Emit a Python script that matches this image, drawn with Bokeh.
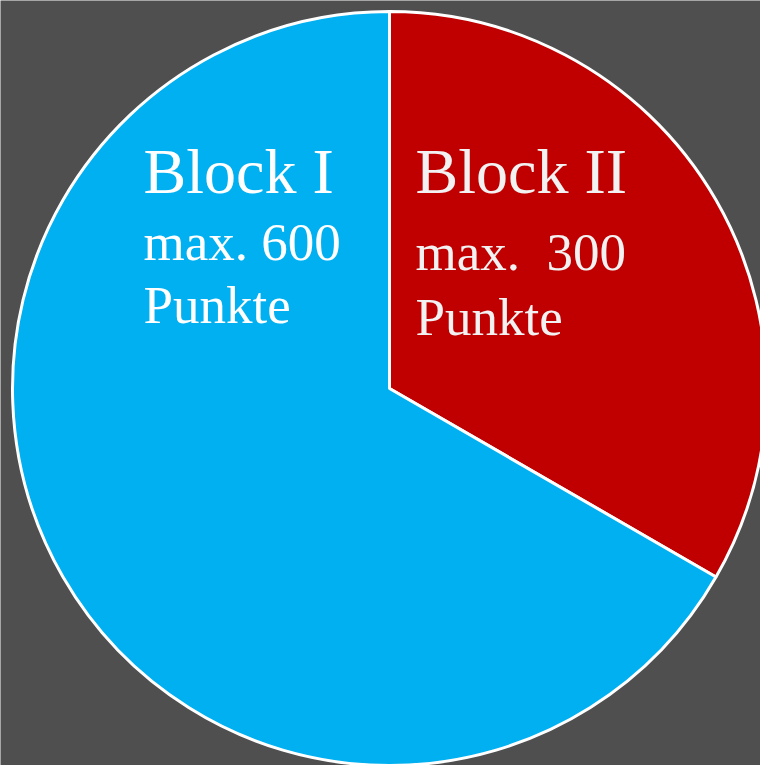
from math import pi
from bokeh.plotting import figure
from bokeh.models import Range1d, ColumnDataSource
from bokeh.core.properties import value
from bokeh.embed import file_html
from bokeh.resources import INLINE

# data
blocks = ["Block II", "Block I"]
points = [300, 600]
colors = ["#C00000", "#00B0F0"]
line1 = ["Block II", "Block I"]
line2 = ["max.\u00a0 300", "max. 600"]
line3 = ["Punkte", "Punkte"]
text_colors = ["#F2F2F2", "#FFFFFF"]

W, H = 760, 765
BG = "#4F4F4F"

p = figure(width=W, height=H, output_backend="svg", toolbar_location=None,
           x_range=Range1d(0, W), y_range=Range1d(0, H),
           min_border=0, background_fill_color=BG, border_fill_color=BG)
p.axis.visible = False
p.grid.visible = False
p.outline_line_color = None

total = sum(points)
starts, ends = [], []
a = pi / 2
for v in points:
    starts.append(a)
    a -= 2 * pi * v / total
    ends.append(a)

src = ColumnDataSource(dict(block=blocks, pts=points, color=colors,
                            start=starts, end=ends))
cx, cy, r = 389, H - 388, 377
p.wedge(x=cx, y=cy, radius=r, radius_units="screen", start_angle="start",
        end_angle="end", direction="clock", fill_color="color",
        line_color="white", line_width=3, source=src)

# labels (layout positions)
lx = [415, 143]
ys1 = [H - 171, H - 171]
ys2 = [H - 251, H - 241]
ys3 = [H - 316, H - 304]
font = value("Liberation Serif")
for xs, ys, txt, size in [(lx, ys1, line1, "64px"), (lx, ys2, line2, "53px"),
                          (lx, ys3, line3, "53px")]:
    p.text(x=xs, y=ys, text=txt, text_color=text_colors, text_font=font,
           text_font_size=size, text_baseline="alphabetic", text_align="left")

html = file_html(p, INLINE)
html = html.replace("<body>", '<body style="background:%s">' % BG, 1)
open("out.html", "w").write(html)
